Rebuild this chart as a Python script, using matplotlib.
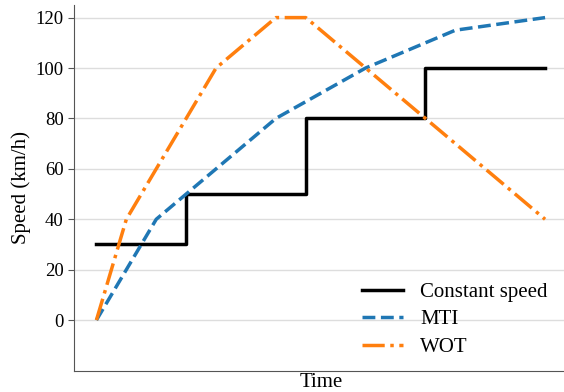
import matplotlib
matplotlib.use("Agg")
import matplotlib.pyplot as plt

plt.rcParams['font.family'] = ['Liberation Serif', 'DejaVu Serif']
plt.rcParams['font.size'] = 12

# data (time in arbitrary units, speed in km/h)
t_const = [0, 3, 7, 11, 15]
v_const = [30, 50, 80, 100, 100]

t_mti = [0, 2, 6, 9, 12, 15]
v_mti = [0, 40, 80, 100, 115, 120]

t_wot = [0, 1, 4, 6, 7, 11, 15]
v_wot = [0, 40, 100, 120, 120, 80, 40]

yticks = [0, 20, 40, 60, 80, 100, 120]

fig = plt.figure(figsize=(5.64, 3.92), dpi=100)
ax = fig.add_axes([74 / 564, 1 - 370.5 / 392, 493.5 / 564, 365.5 / 392])

ax.step(t_const, v_const, where='post', color='black', lw=2.5, label='Constant speed')
ax.plot(t_mti, v_mti, '--', color='#1f77b4', lw=2.5, label='MTI')
ax.plot(t_wot, v_wot, '-.', color='#ff7f0e', lw=2.5, label='WOT')

ax.set_xlim(-0.75, 15.75)
ax.set_ylim(-20, 125)
ax.set_yticks(yticks)
ax.set_xticks([])
ax.tick_params(axis='y', labelsize=13.5, color='#555555', length=4)
ax.yaxis.grid(True, color='#dddddd', lw=1)
ax.set_axisbelow(True)

for s in ['top', 'right']:
    ax.spines[s].set_visible(False)
for s in ['left', 'bottom']:
    ax.spines[s].set_color('#555555')

ax.set_xlabel('Time', fontsize=15, labelpad=2)
ax.set_ylabel('Speed (km/h)', fontsize=15, labelpad=3)

ax.legend(loc='lower right', frameon=False, fontsize=15,
          labelspacing=0.38, borderaxespad=0.25, bbox_to_anchor=(0.987, 0.0))

fig.savefig('out.png', dpi=100)
